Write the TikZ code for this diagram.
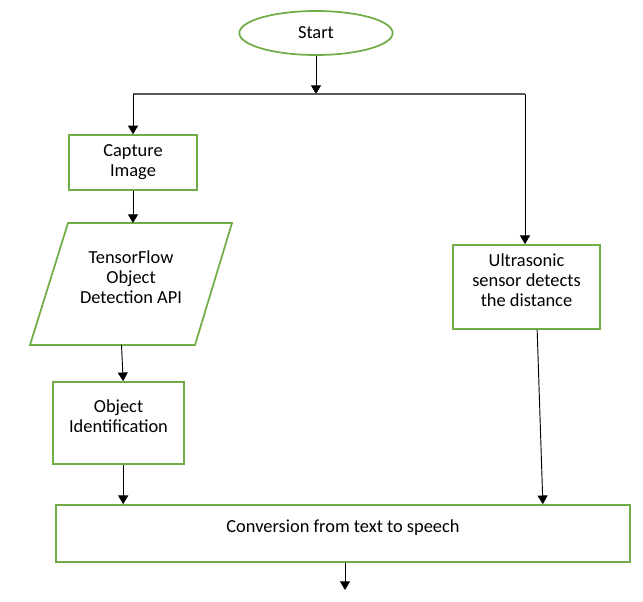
\documentclass[tikz,border=0pt]{standalone}
\usepackage{fontspec}
\setmainfont{Carlito}
\usepackage{tikz}
\usepackage{tkz-euclide}
\usetikzlibrary{shapes.geometric,arrows.meta}

\definecolor{verde}{RGB}{112,173,71}

\tikzset{
  caixa/.style={draw=verde, line width=1.3pt, fill=white, align=center,
    inner sep=0pt, text depth=11pt},
  seta/.style={-{Triangle[width=7.5pt,length=6.5pt]}, line width=0.7pt},
}

\begin{document}
\begin{tikzpicture}[x=0.75pt, y=-0.75pt, font=\fontsize{13.8}{15}\selectfont] %1 px = 0,75 pt

\useasboundingbox (0,0) rectangle (643,601);

%Pontos do fluxograma (x/y/NomedoPonto), em pixels da imagem
\tkzDefPoints{
316/33/S,
316/94/J,
133/94/L,
525/94/R,
133/162.5/C,
68/223/P1,
232/223/P2,
195/345/P3,
30/345/P4,
131/284/T,
118.5/423/O,
526.5/287/U,
343/533.5/V,
345/590/F}

%Inicio do fluxograma
%---------------------------------------------------
\node[ellipse, draw=verde, line width=1.3pt, minimum width=115pt,
  minimum height=33pt, inner sep=0pt] (start) at (S) {Start};
%---------------------------------------------------

%Caixas do ramo esquerdo
%---------------------------------------------------
\node[caixa, minimum width=96pt, minimum height=41pt, text depth=3pt] (capture) at (C) {Capture\\Image};
\draw[draw=verde, line width=1.3pt] (P1) -- (P2) -- (P3) -- (P4) -- cycle;
\node[align=center, text depth=11pt, minimum height=91pt] (tfod) at (T) {TensorFlow\\Object\\Detection API};
\node[caixa, minimum width=98pt, minimum height=61.5pt] (object) at (O) {Object\\Identification};
%---------------------------------------------------

%Caixa do ramo direito e caixa final
%---------------------------------------------------
\node[caixa, minimum width=110pt, minimum height=63pt] (ultra) at (U) {Ultrasonic\\sensor detects\\the distance};
\node[caixa, minimum width=430.5pt, minimum height=42.75pt] (speech) at (V) {Conversion from text to speech};
%---------------------------------------------------

%Ligacoes
%---------------------------------------------------
\draw[seta] (start) -- (J);
\draw[black!65, line width=0.8pt] (L) -- (R);
\draw[seta] (L) -- (capture);
\draw[seta] (capture) -- (capture |- P1);
\draw[seta] (tfod.south -| object.north) ++(3,0) -- ([xshift=3.5pt]object.north);
\draw[seta] ([xshift=3.5pt]object.south) -- ([xshift=3.5pt]object.south |- speech.north);
\draw[seta] (R) -- (R |- ultra.north);
\draw[seta] ([xshift=8pt]ultra.south) -- ([xshift=-66pt]speech.north east);
\draw[seta] (speech.south -| F) -- (F);
%---------------------------------------------------

\end{tikzpicture}
\end{document}
